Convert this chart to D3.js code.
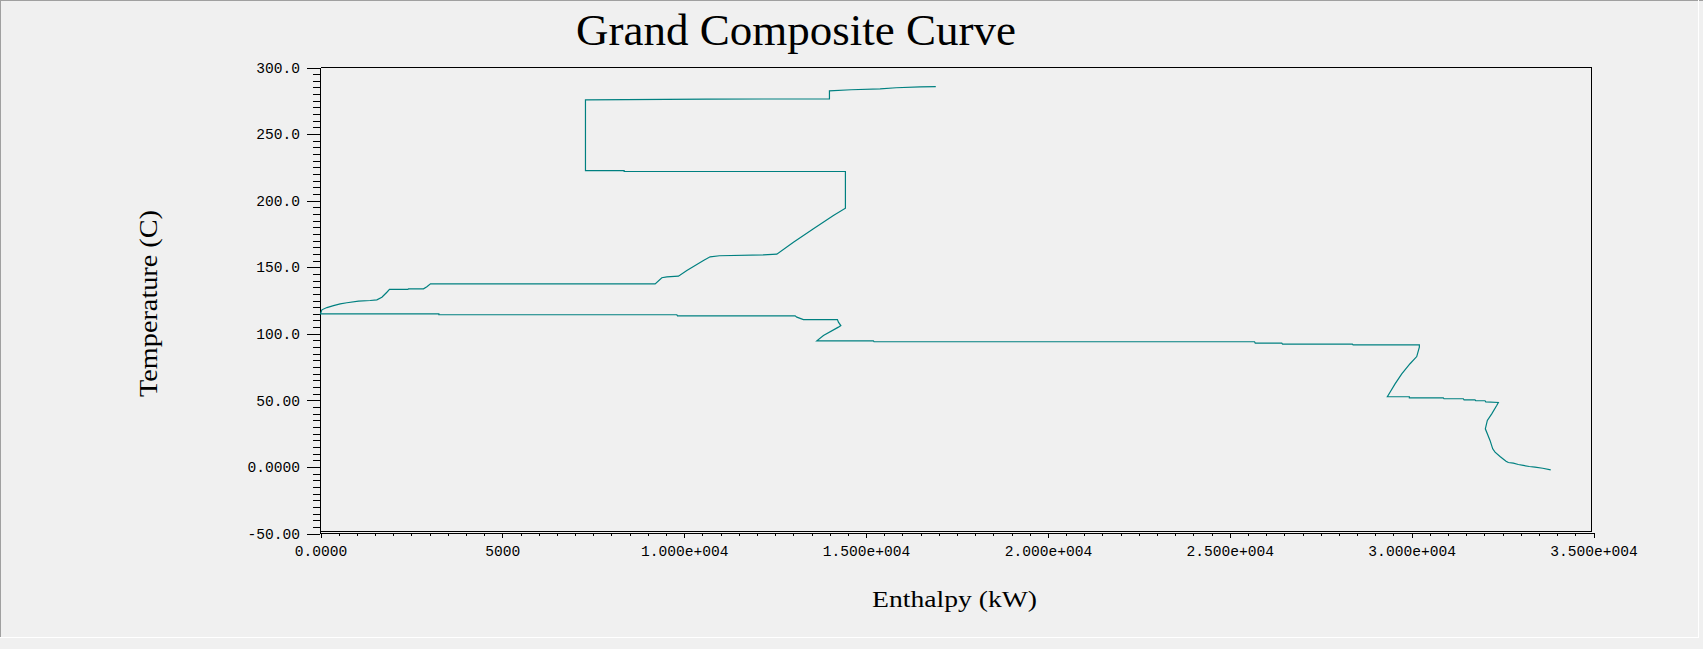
<!DOCTYPE html>
<html>
<head>
<meta charset="utf-8">
<script src="https://cdn.jsdelivr.net/npm/d3@7"></script>
<style>
  html, body { margin: 0; padding: 0; background: #f0f0f0; }
  svg { display: block; }
</style>
</head>
<body>
<svg id="chart" width="1703" height="649"></svg>
<script>
// ---------- data ----------
const titleText = "Grand Composite Curve";
const xTitle = "Enthalpy (kW)";
const yTitle = "Temperature (C)";

// Grand composite curve, traced from hot-utility end down to cold-utility end
const enthalpy = [
  16917, 16486, 15826, 15386, 14589, 13993, 13993, 10622, 7285, 7285,
  8349, 8349, 14432, 14432, 14102, 13553, 13003, 12546, 12178, 10969,
  10713, 10529, 10072, 9841, 9523, 9385, 9201, 3024, 2925, 2832,
  2419, 2403, 1897, 1825, 1688, 1550, 1366, 1045, 726, 542,
  357, 176, 38, 0, 3255, 3255, 9797, 9814, 13050, 13096,
  13278, 14212, 14240, 14306, 14240, 13828, 13646, 15202, 15220, 25680,
  25700, 26430, 26450, 28370, 28390, 30212, 30212, 30140, 29956, 29728,
  29544, 29406, 29332, 29937, 29937, 30871, 30890, 31421, 31441, 31743,
  31762, 32018, 32037, 32384, 32339, 32202, 32081, 32026, 32081, 32155,
  32229, 32293, 32430, 32595, 32658, 32796, 32933, 33070, 33235, 33392,
  33604, 33824
];
const temperature = [
  285.7, 285.5, 284.8, 284.0, 283.3, 282.5, 276.5, 276.2, 275.7, 222.6,
  222.6, 221.9, 221.9, 194.3, 188.8, 178.9, 168.8, 159.8, 159.3, 158.6,
  157.8, 155.0, 147.5, 143.3, 142.8, 142.1, 137.5, 137.5, 135.3, 133.8,
  133.8, 133.3, 133.3, 131.2, 127.5, 125.5, 125.0, 124.5, 123.3, 122.5,
  121.2, 119.7, 118.0, 115.0, 115.0, 114.3, 114.3, 113.5, 113.5, 112.5,
  110.7, 110.7, 108.7, 106.2, 105.0, 98.7, 94.7, 94.7, 94.0, 94.0,
  93.0, 93.0, 92.3, 92.3, 91.7, 91.7, 89.9, 82.9, 77.5, 69.9,
  62.4, 56.1, 52.7, 52.7, 51.9, 51.9, 51.2, 51.2, 50.4, 50.4,
  49.7, 49.7, 48.9, 48.4, 46.1, 39.9, 34.9, 28.6, 24.9, 19.9,
  13.6, 11.1, 7.8, 4.3, 3.3, 2.8, 1.8, 1.1, 0.3, -0.2,
  -1.0, -2.2
];

const xTickValues = [0, 5000, 10000, 15000, 20000, 25000, 30000, 35000];
const xTickLabels = ["0.0000", "5000", "1.000e+004", "1.500e+004", "2.000e+004", "2.500e+004", "3.000e+004", "3.500e+004"];
const yTickValues = [-50, 0, 50, 100, 150, 200, 250, 300];
const yTickLabels = ["-50.00", "0.0000", "50.00", "100.0", "150.0", "200.0", "250.0", "300.0"];
const xMinorStep = 500;
const yMinorStep = 5;

(function () {
// ---------- layout ----------
const W = 1703, H = 649;
const pLeft = 320.5, pRight = 1593.5, pTop = 67.5, pBottom = 533.5;
const boxRight = 1591.5, boxBottom = 531.5;
const curveColor = "#008080";
const tickFont = "'Liberation Mono', 'DejaVu Sans Mono', monospace";
const serifFont = "'Liberation Serif', 'DejaVu Serif', serif";

const svg = d3.select("#chart");

svg.append("rect").attr("x", 0).attr("y", 0).attr("width", W).attr("height", H).attr("fill", "#f0f0f0");
// window frame
svg.append("line").attr("x1", 0).attr("x2", W).attr("y1", 0.5).attr("y2", 0.5).attr("stroke", "#a0a0a0");
svg.append("line").attr("x1", 0.5).attr("x2", 0.5).attr("y1", 0).attr("y2", 638).attr("stroke", "#a0a0a0");
svg.append("line").attr("x1", 0).attr("x2", 1699).attr("y1", 637.5).attr("y2", 637.5).attr("stroke", "#ffffff");
svg.append("line").attr("x1", 1698.5).attr("x2", 1698.5).attr("y1", 0).attr("y2", 638).attr("stroke", "#ffffff");

const x = d3.scaleLinear().domain([0, 35000]).range([pLeft, pRight]);
const y = d3.scaleLinear().domain([-50, 300]).range([pBottom, pTop]);

// plot frame (top, right, inner bottom)
const frame = svg.append("g").attr("stroke", "#000").attr("stroke-width", 1).attr("shape-rendering", "crispEdges");
frame.append("line").attr("x1", pLeft).attr("x2", boxRight).attr("y1", pTop).attr("y2", pTop);
frame.append("line").attr("x1", boxRight).attr("x2", boxRight).attr("y1", pTop).attr("y2", boxBottom);
frame.append("line").attr("x1", pLeft).attr("x2", boxRight).attr("y1", boxBottom).attr("y2", boxBottom);

// minor ticks
const yMinor = d3.range(-50, 300 + 0.001, yMinorStep).filter(v => !yTickValues.includes(v));
const xMinor = d3.range(0, 35000 + 0.001, xMinorStep).filter(v => !xTickValues.includes(v));

svg.append("g")
  .attr("transform", `translate(${pLeft - 0.5},0)`)
  .attr("shape-rendering", "crispEdges")
  .call(d3.axisLeft(y).tickValues(yMinor).tickSize(7).tickSizeOuter(0).tickFormat(""))
  .call(g => g.select(".domain").remove());

svg.append("g")
  .attr("transform", `translate(0,${pBottom - 0.5})`)
  .attr("shape-rendering", "crispEdges")
  .call(d3.axisBottom(x).tickValues(xMinor).tickSize(3).tickSizeOuter(0).tickFormat(""))
  .call(g => g.select(".domain").remove());

// major axes
const yAxis = svg.append("g")
  .attr("transform", `translate(${pLeft - 0.5},0)`)
  .attr("shape-rendering", "crispEdges")
  .call(d3.axisLeft(y).tickValues(yTickValues).tickSize(13).tickSizeOuter(0).tickPadding(7)
    .tickFormat((d, i) => yTickLabels[i]));
yAxis.selectAll("text").attr("font-family", tickFont).attr("font-size", "14.6px").attr("fill", "#000");

const xAxis = svg.append("g")
  .attr("transform", `translate(0,${pBottom - 0.5})`)
  .attr("shape-rendering", "crispEdges")
  .call(d3.axisBottom(x).tickValues(xTickValues).tickSize(5).tickSizeOuter(0).tickPadding(8)
    .tickFormat((d, i) => xTickLabels[i]));
xAxis.selectAll("text").attr("font-family", tickFont).attr("font-size", "14.6px").attr("fill", "#000");

// curve
const pts = enthalpy.map((h, i) => [h, temperature[i]]);
svg.append("path")
  .datum(pts)
  .attr("fill", "none")
  .attr("stroke", curveColor)
  .attr("stroke-width", 1.2)
  .attr("d", d3.line().x(d => x(d[0])).y(d => y(d[1])));

// title
svg.append("text")
  .attr("x", 796).attr("y", 44.5)
  .attr("text-anchor", "middle")
  .attr("font-family", serifFont)
  .attr("font-size", "45px")
  .attr("textLength", 440)
  .attr("lengthAdjust", "spacingAndGlyphs")
  .attr("fill", "#000")
  .text(titleText);

// axis titles
svg.append("text")
  .attr("x", 954.5).attr("y", 607)
  .attr("text-anchor", "middle")
  .attr("font-family", serifFont)
  .attr("font-size", "24px")
  .attr("textLength", 165)
  .attr("lengthAdjust", "spacingAndGlyphs")
  .attr("fill", "#000")
  .text(xTitle);

svg.append("text")
  .attr("transform", "translate(157,303.5) rotate(-90)")
  .attr("text-anchor", "middle")
  .attr("font-family", serifFont)
  .attr("font-size", "25px")
  .attr("textLength", 187)
  .attr("lengthAdjust", "spacingAndGlyphs")
  .attr("fill", "#000")
  .text(yTitle);
})();
</script>
</body>
</html>
